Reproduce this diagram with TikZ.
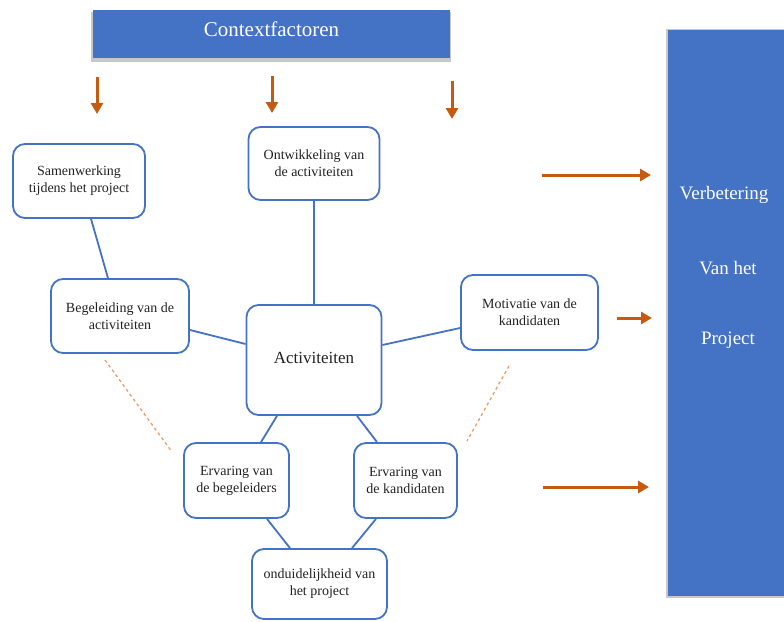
\documentclass[tikz,border=0pt]{standalone}
\usepackage{fontspec}
\setmainfont{Liberation Serif}
\usetikzlibrary{arrows.meta}
\definecolor{boxblue}{HTML}{4472C4}
\definecolor{arrorange}{HTML}{C55A11}
\definecolor{dashorange}{HTML}{EE9B67}
\definecolor{shade}{HTML}{C8C8C8}
\definecolor{txt}{HTML}{222222}
\tikzset{
  item/.style={draw=boxblue, line width=1.8pt, fill=white, rounded corners=12pt,
    align=center, text=txt, font=\fontsize{14}{17}\selectfont, inner sep=0pt},
  link/.style={draw=boxblue, line width=1.8pt},
  dotlink/.style={draw=dashorange, line width=1.3pt, dash pattern=on 3pt off 3pt},
  flow/.style={draw=arrorange, line width=3pt, -{Triangle[length=11pt,width=12pt]}},
  banner/.style={fill=boxblue, draw=none, inner sep=0pt},
  bannershade/.style={fill=shade, draw=none, inner sep=0pt},
  bannertext/.style={text=white, inner sep=0pt}
}
\begin{document}
\begin{tikzpicture}[x=1pt, y=-1pt]
\useasboundingbox (0,0) rectangle (784,621);

% context factors banner with its grey shadow
\node[bannershade, minimum width=360pt, minimum height=50pt] (ctxshade) at (270.5,37) {};
\node[banner, minimum width=357pt, minimum height=48pt] (ctx) at (271.5,34) {};
\node[bannertext, font=\fontsize{21}{25}\selectfont] (ctxtext) at (271.5,29) {Contextfactoren};

% result panel on the right
\node[bannershade, minimum width=124pt, minimum height=569pt] (resshade) at (728,313) {};
\node[banner, minimum width=122pt, minimum height=566pt] (res) at (729,313) {};
\node[bannertext, font=\fontsize{19}{23}\selectfont] (res1) at (724,195) {Verbetering};
\node[bannertext, font=\fontsize{19}{23}\selectfont] (res2) at (728,268) {Van het};
\node[bannertext, font=\fontsize{19}{23}\selectfont] (res3) at (728,340) {Project};

% concept boxes
\node[item, minimum width=132pt, minimum height=74pt] (sam) at (79,181) {Samenwerking\\tijdens het project};
\node[item, minimum width=131pt, minimum height=73pt] (ont) at (314,163.5) {Ontwikkeling van\\de activiteiten};
\node[item, minimum width=135pt, minimum height=110pt] (act) at (314,360) {};
\node[text=txt, font=\fontsize{17}{20}\selectfont, inner sep=0pt] (acttext) at (314,358) {Activiteiten};
\node[item, minimum width=138pt, minimum height=74pt] (beg) at (120,316) {Begeleiding van de\\activiteiten};
\node[item, minimum width=137pt, minimum height=75pt] (mot) at (529.5,312.5) {Motivatie van de\\kandidaten};
\node[item, minimum width=105pt, minimum height=75pt] (ervb) at (236.5,480.5) {Ervaring van\\de begeleiders};
\node[item, minimum width=103pt, minimum height=75pt] (ervk) at (405.5,480.5) {Ervaring van\\de kandidaten};
\node[item, minimum width=135pt, minimum height=70pt] (ond) at (319.5,584) {onduidelijkheid van\\het project};

% solid links between the boxes
\draw[link] ([xshift=12pt]sam.south) -- ([xshift=-12pt]beg.north);
\draw[link] (ont.south) -- (act.north);
\draw[link] ([yshift=-14pt]beg.east) -- ([yshift=16pt]act.west);
\draw[link] ([yshift=-15.5pt]mot.west) -- ([yshift=15pt]act.east);
\draw[link] ([xshift=-37pt]act.south) -- ([xshift=24.5pt]ervb.north);
\draw[link] ([xshift=43pt]act.south) -- ([xshift=-28.5pt]ervk.north);
\draw[link] ([xshift=30.5pt]ervb.south) -- ([xshift=-29.5pt]ond.north);
\draw[link] ([xshift=-29.5pt]ervk.south) -- ([xshift=32.5pt]ond.north);

% dashed hints
\coordinate (dl1) at (105,360);
\coordinate (dl2) at (172,452);
\coordinate (dr1) at (509,366);
\coordinate (dr2) at (467,441);
\draw[dotlink] (dl1) -- (dl2);
\draw[dotlink] (dr1) -- (dr2);

% context influence arrows
\coordinate (c1a) at (97,77);   \coordinate (c1b) at (97,114);
\coordinate (c2a) at (272,76);  \coordinate (c2b) at (272,113);
\coordinate (c3a) at (452,81);  \coordinate (c3b) at (452,119);
\draw[flow] (c1a) -- (c1b);
\draw[flow] (c2a) -- (c2b);
\draw[flow] (c3a) -- (c3b);

% arrows towards the result
\coordinate (r1a) at (542,175); \coordinate (r1b) at (651,175);
\coordinate (r2a) at (617,318); \coordinate (r2b) at (652,318);
\coordinate (r3a) at (543,487); \coordinate (r3b) at (649,487);
\draw[flow] (r1a) -- (r1b);
\draw[flow] (r2a) -- (r2b);
\draw[flow] (r3a) -- (r3b);
\end{tikzpicture}
\end{document}
